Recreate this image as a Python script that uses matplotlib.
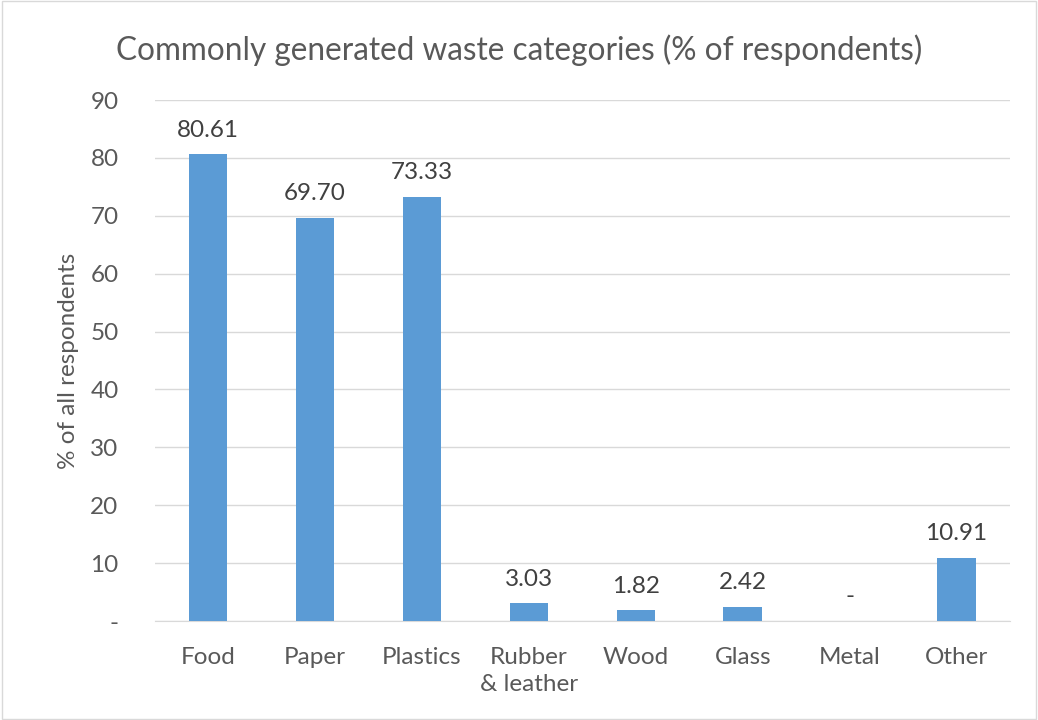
import matplotlib.pyplot as plt
from matplotlib.patches import Rectangle

categories = ["Food", "Paper", "Plastics", "Rubber\n& leather", "Wood", "Glass", "Metal", "Other"]
values = [80.61, 69.70, 73.33, 3.03, 1.82, 2.42, 0.0, 10.91]
value_labels = ["80.61", "69.70", "73.33", "3.03", "1.82", "2.42", "-", "10.91"]
y_ticks = [0, 10, 20, 30, 40, 50, 60, 70, 80, 90]
y_tick_labels = ["-", "10", "20", "30", "40", "50", "60", "70", "80", "90"]

plt.rcParams['font.family'] = ['Lato', 'DejaVu Sans']
text_color = '#595959'

fig = plt.figure(figsize=(10.38, 7.2), dpi=100)
ax = fig.add_axes([0.149, 0.1375, 0.824, 0.7235])

x = range(len(categories))
ax.bar(x, values, width=0.36, color='#5B9BD5', zorder=3)

for i, (v, lab) in enumerate(zip(values, value_labels)):
    ax.text(i, v + 2.4, lab, ha='center', va='bottom', fontsize=17.5, color='#404040')

ax.set_xlim(-0.5, len(categories) - 0.5)
ax.set_ylim(0, 90)
ax.set_yticks(y_ticks)
ax.set_yticklabels(y_tick_labels, fontsize=17.5, color=text_color)
ax.set_xticks(list(x))
ax.set_xticklabels(categories, fontsize=17.5, color=text_color, linespacing=1.35)
ax.tick_params(axis='x', length=0, pad=19)
ax.tick_params(axis='y', length=0, pad=26)

ax.grid(axis='y', color='#D9D9D9', linewidth=1, zorder=0)
for s in ['top', 'right', 'left']:
    ax.spines[s].set_visible(False)
ax.spines['bottom'].set_color('#D9D9D9')

ax.set_ylabel("% of all respondents", fontsize=17.5, color=text_color, labelpad=8)
fig.text(0.5, 0.93, "Commonly generated waste categories (% of respondents)",
         ha='center', va='center', fontsize=22.7, color=text_color)

fig.patches.append(Rectangle((0.002, 0.002), 0.996, 0.996, transform=fig.transFigure,
                             fill=False, edgecolor='#D9D9D9', linewidth=1))

fig.savefig('out.png', dpi=100)
